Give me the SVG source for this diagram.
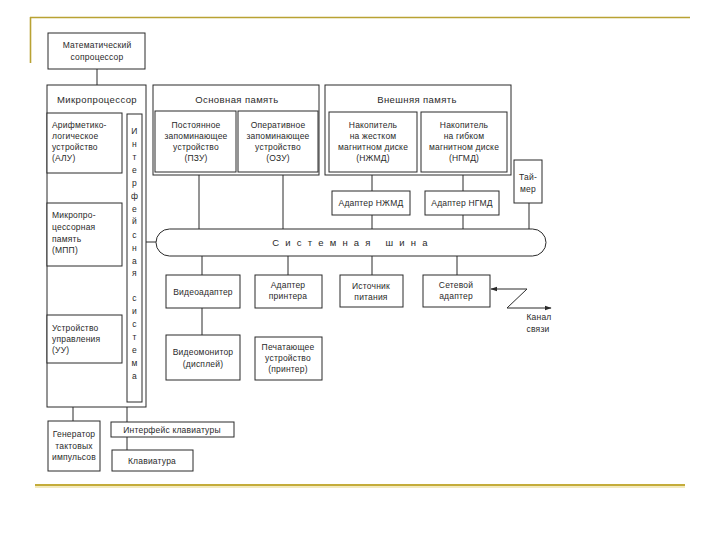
<svg xmlns="http://www.w3.org/2000/svg" width="720" height="540" viewBox="0 0 720 540">
<style>
.b{fill:#fff;stroke:#2a2a2a;stroke-width:1}
.l{fill:none;stroke:#2a2a2a;stroke-width:1}
text{font-family:"Liberation Sans","DejaVu Sans",sans-serif;font-size:8.5px;fill:#2a2a2a;letter-spacing:0.2px}
.c{text-anchor:middle}
.h{font-size:9.5px;letter-spacing:0.4px}
.v{text-anchor:middle;font-size:8.5px}
</style>
<defs>
<marker id="ah" viewBox="0 0 10 10" refX="9" refY="5" markerWidth="7" markerHeight="7" orient="auto-start-reverse" markerUnits="userSpaceOnUse">
<path d="M0,1.5 L10,5 L0,8.5 Z" fill="#2a2a2a"/>
</marker>
</defs>
<rect width="720" height="540" fill="#fff"/>
<g id="decor">
<line x1="30" y1="17.5" x2="690" y2="17.5" stroke="#b9a233" stroke-width="1.6"/>
<line x1="30.5" y1="17" x2="30.5" y2="63" stroke="#b9a233" stroke-width="1.6"/>
<line x1="35" y1="485" x2="685" y2="485" stroke="#c4ac3a" stroke-width="2"/>
<line x1="35" y1="487" x2="685" y2="487" stroke="#efe3a8" stroke-width="1.5"/>
</g>
<g id="connectors">
<line class="l" x1="97" y1="69" x2="97" y2="85"/>
<line class="l" x1="146" y1="242" x2="156" y2="242"/>
<line class="l" x1="199" y1="172" x2="199" y2="229"/>
<line class="l" x1="283" y1="172" x2="283" y2="229"/>
<line class="l" x1="372" y1="175" x2="372" y2="191"/>
<line class="l" x1="463" y1="175" x2="463" y2="191"/>
<line class="l" x1="372" y1="215" x2="372" y2="229"/>
<line class="l" x1="463" y1="215" x2="463" y2="229"/>
<line class="l" x1="529" y1="203" x2="529" y2="229"/>
<line class="l" x1="202" y1="256" x2="202" y2="275"/>
<line class="l" x1="288" y1="256" x2="288" y2="275"/>
<line class="l" x1="372" y1="256" x2="372" y2="275"/>
<line class="l" x1="457" y1="256" x2="457" y2="275"/>
<line class="l" x1="202" y1="308" x2="202" y2="335"/>
<line class="l" x1="73" y1="407" x2="73" y2="421"/>
<line class="l" x1="127" y1="402" x2="127" y2="422"/>
<line class="l" x1="127" y1="437" x2="127" y2="450"/>
<line class="l" x1="527" y1="289" x2="491" y2="289" marker-end="url(#ah)"/>
<polyline class="l" points="527,289 507,308 551,308" marker-end="url(#ah)"/>
</g>
<g id="coprocessor">
<rect class="b" x="48" y="33" width="97" height="36"/>
<text class="c" x="97" y="48">Математический</text>
<text class="c" x="97" y="60">сопроцессор</text>
</g>
<g id="microprocessor">
<rect class="b" x="47" y="85" width="99" height="322"/>
<text class="c h" x="97" y="103">Микропроцессор</text>
</g>
<g id="alu">
<rect class="b" x="47" y="113" width="75" height="60"/>
<text x="52" y="128">Арифметико-</text>
<text x="52" y="139">логическое</text>
<text x="52" y="150">устройство</text>
<text x="52" y="161">(АЛУ)</text>
</g>
<g id="mpp">
<rect class="b" x="47" y="203" width="75" height="63"/>
<text x="52" y="218">Микропро-</text>
<text x="52" y="230">цессорная</text>
<text x="52" y="242">память</text>
<text x="52" y="253">(МПП)</text>
</g>
<g id="uu">
<rect class="b" x="47" y="315" width="75" height="48"/>
<text x="52" y="331">Устройство</text>
<text x="52" y="342">управления</text>
<text x="52" y="353">(УУ)</text>
</g>
<g id="interface-system">
<rect class="b" x="127" y="114" width="15" height="288"/>
<text class="v" x="134.5" y="134">И</text>
<text class="v" x="134.5" y="147">н</text>
<text class="v" x="134.5" y="160">т</text>
<text class="v" x="134.5" y="173">е</text>
<text class="v" x="134.5" y="186">р</text>
<text class="v" x="134.5" y="199">ф</text>
<text class="v" x="134.5" y="212">е</text>
<text class="v" x="134.5" y="224">й</text>
<text class="v" x="134.5" y="238">с</text>
<text class="v" x="134.5" y="251">н</text>
<text class="v" x="134.5" y="264">а</text>
<text class="v" x="134.5" y="276">я</text>
<text class="v" x="134.5" y="301">с</text>
<text class="v" x="134.5" y="314">и</text>
<text class="v" x="134.5" y="327">с</text>
<text class="v" x="134.5" y="340">т</text>
<text class="v" x="134.5" y="353">е</text>
<text class="v" x="134.5" y="366">м</text>
<text class="v" x="134.5" y="379">а</text>
</g>
<g id="main-memory">
<rect class="b" x="153" y="85" width="166" height="90"/>
<text class="c h" x="237" y="103">Основная память</text>
</g>
<g id="rom">
<rect class="b" x="155" y="111" width="81" height="61"/>
<text class="c" x="196" y="128">Постоянное</text>
<text class="c" x="196" y="139">запоминающее</text>
<text class="c" x="196" y="150">устройство</text>
<text class="c" x="196" y="161">(ПЗУ)</text>
</g>
<g id="ram">
<rect class="b" x="238" y="111" width="80" height="61"/>
<text class="c" x="278" y="128">Оперативное</text>
<text class="c" x="278" y="139">запоминающее</text>
<text class="c" x="278" y="150">устройство</text>
<text class="c" x="278" y="161">(ОЗУ)</text>
</g>
<g id="external-memory">
<rect class="b" x="325" y="85" width="186" height="90"/>
<text class="c h" x="417" y="103">Внешняя память</text>
</g>
<g id="hdd">
<rect class="b" x="329" y="112" width="88" height="60"/>
<text class="c" x="373" y="128">Накопитель</text>
<text class="c" x="373" y="139">на жестком</text>
<text class="c" x="373" y="150">магнитном диске</text>
<text class="c" x="373" y="161">(НЖМД)</text>
</g>
<g id="fdd">
<rect class="b" x="421" y="112" width="86" height="60"/>
<text class="c" x="464" y="128">Накопитель</text>
<text class="c" x="464" y="139">на гибком</text>
<text class="c" x="464" y="150">магнитном диске</text>
<text class="c" x="464" y="161">(НГМД)</text>
</g>
<g id="hdd-adapter">
<rect class="b" x="332" y="191" width="78" height="24"/>
<text class="c" x="371" y="206">Адаптер НЖМД</text>
</g>
<g id="fdd-adapter">
<rect class="b" x="425" y="191" width="74" height="24"/>
<text class="c" x="462" y="206">Адаптер НГМД</text>
</g>
<g id="timer">
<rect class="b" x="514" y="160" width="28" height="43"/>
<text class="c" x="528" y="180">Тай-</text>
<text class="c" x="528" y="192">мер</text>
</g>
<g id="system-bus">
<rect class="b" x="156" y="229" width="390" height="27" rx="13.5" ry="13.5"/>
<text class="c" x="353" y="246" style="font-size:9.5px;letter-spacing:6.2px">Системная шина</text>
</g>
<g id="video-adapter">
<rect class="b" x="166" y="275" width="74" height="33"/>
<text class="c" x="203" y="295">Видеоадаптер</text>
</g>
<g id="printer-adapter">
<rect class="b" x="255" y="275" width="67" height="33"/>
<text class="c" x="288" y="288">Адаптер</text>
<text class="c" x="288" y="299">принтера</text>
</g>
<g id="power">
<rect class="b" x="340" y="275" width="63" height="32"/>
<text class="c" x="371" y="289">Источник</text>
<text class="c" x="371" y="300">питания</text>
</g>
<g id="network-adapter">
<rect class="b" x="423" y="275" width="67" height="32"/>
<text class="c" x="456" y="288">Сетевой</text>
<text class="c" x="456" y="299">адаптер</text>
</g>
<g id="channel">
<text class="c" x="539" y="320">Канал</text>
<text class="c" x="538" y="332">связи</text>
</g>
<g id="monitor">
<rect class="b" x="166" y="335" width="74" height="45"/>
<text class="c" x="203" y="355">Видеомонитор</text>
<text class="c" x="203" y="367">(дисплей)</text>
</g>
<g id="printer">
<rect class="b" x="255" y="337" width="67" height="43"/>
<text class="c" x="288" y="350">Печатающее</text>
<text class="c" x="288" y="361">устройство</text>
<text class="c" x="288" y="372">(принтер)</text>
</g>
<g id="clock-generator">
<rect class="b" x="48" y="421" width="52" height="50"/>
<text class="c" x="74" y="437">Генератор</text>
<text class="c" x="74" y="449">тактовых</text>
<text class="c" x="74" y="460">импульсов</text>
</g>
<g id="keyboard-interface">
<rect class="b" x="111" y="422" width="123" height="15"/>
<text class="c" x="172" y="433">Интерфейс клавиатуры</text>
</g>
<g id="keyboard">
<rect class="b" x="112" y="450" width="81" height="21"/>
<text class="c" x="152" y="464">Клавиатура</text>
</g>
</svg>
